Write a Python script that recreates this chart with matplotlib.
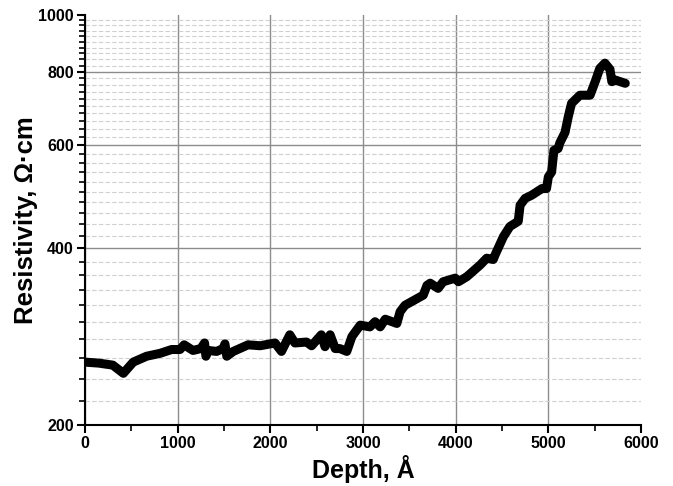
import matplotlib.pyplot as plt
from matplotlib.ticker import FixedLocator, NullFormatter

# depth (Angstrom) and resistivity (Ohm*cm)
depth = [0, 150, 300, 414, 520, 665, 810, 935, 1025, 1070, 1165, 1250, 1290, 1305,
         1330, 1420, 1490, 1510, 1530, 1600, 1760, 1890, 2050, 2120, 2210, 2265,
         2390, 2445, 2550, 2590, 2645, 2700, 2750, 2825, 2880, 2970, 3075, 3130,
         3185, 3240, 3365, 3400, 3453, 3560, 3650, 3690, 3725, 3810, 3865, 3995,
         4030, 4120, 4265, 4335, 4405, 4425, 4515, 4585, 4675, 4695, 4750, 4820,
         4930, 4980, 5000, 5035, 5060, 5105, 5125, 5180, 5215, 5250, 5340, 5450,
         5505, 5555, 5610, 5665, 5685, 5720, 5830]
resist = [256, 255, 253, 245, 256, 262, 265, 269, 269, 274, 268, 270, 276, 262,
          268, 267, 270, 275, 262, 267, 274, 273, 276, 267, 285, 276,
          277, 273, 285, 272, 285, 270, 270, 267, 283, 296, 294, 300,
          294, 303, 298, 312, 320, 327, 333, 346, 349, 342, 351, 356,
          351, 358, 375, 385, 383, 390, 419, 436, 445, 474, 487, 493,
          506, 506, 530, 540, 588, 592, 606, 631, 671, 707, 730, 730,
          770, 811, 828, 808, 770, 775, 765]

y_major = [200, 400, 600, 800, 1000]
y_minor = list(range(220, 1000, 20))
x_major = [0, 1000, 2000, 3000, 4000, 5000, 6000]
x_minor = [500, 1500, 2500, 3500, 4500, 5500]

plt.rcParams['font.family'] = ['Liberation Sans', 'DejaVu Sans']

fig = plt.figure(figsize=(6.73, 4.86), dpi=100)
ax = fig.add_axes([0.1263, 0.1255, 0.8262, 0.8435])

ax.plot(depth, resist, color='black', lw=6.5, solid_joinstyle='round',
        solid_capstyle='round', zorder=3)

ax.set_yscale('log')
ax.set_xlim(0, 6000)
ax.set_ylim(200, 1000)

ax.yaxis.set_major_locator(FixedLocator(y_major))
ax.yaxis.set_minor_locator(FixedLocator(y_minor))
ax.yaxis.set_major_formatter(plt.FuncFormatter(lambda v, p: '%d' % v))
ax.yaxis.set_minor_formatter(NullFormatter())
ax.xaxis.set_major_locator(FixedLocator(x_major))
ax.xaxis.set_minor_locator(FixedLocator(x_minor))

ax.grid(which='major', color='#8c8c8c', lw=1.0, ls='-', zorder=1)
ax.grid(which='minor', axis='y', color='#d0d0d0', lw=0.8, ls=(0, (4, 2)), zorder=1)
# no grid line on the open top / right edges
ax.get_xgridlines()[-1].set_visible(False)
ax.get_ygridlines()[-1].set_visible(False)

for s in ['top', 'right']:
    ax.spines[s].set_visible(False)
for s in ['left', 'bottom']:
    ax.spines[s].set_linewidth(1.5)

ax.tick_params(which='major', direction='out', length=6, width=1.5,
               labelsize=11.5, pad=2)
ax.tick_params(which='minor', direction='out', length=4, width=1.2)
for lbl in ax.get_xticklabels() + ax.get_yticklabels():
    lbl.set_fontweight('bold')

ax.set_xlabel('Depth, Å', fontsize=18, fontweight='bold', labelpad=3)
ax.set_ylabel('Resistivity, Ω·cm', fontsize=18.5, fontweight='bold', labelpad=0.5)

fig.savefig('out.png', dpi=100)
